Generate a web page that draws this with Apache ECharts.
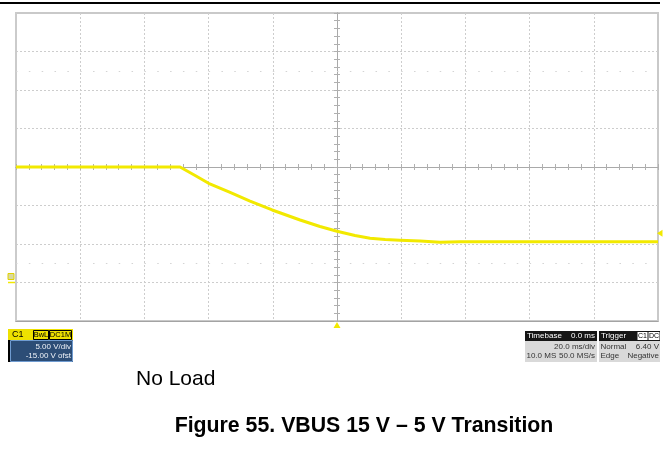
<!DOCTYPE html>
<html>
<head>
<meta charset="utf-8">
<title>VBUS 15 V – 5 V Transition</title>
<script src="https://cdn.jsdelivr.net/npm/echarts@6.0.0/dist/echarts.min.js"></script>
<style>
  html, body { margin: 0; padding: 0; background: #ffffff; }
  #chart { width: 671px; height: 453px; }
</style>
</head>
<body>
<div id="chart"></div>
<script>
// Channel 1 capture: time in ms relative to the trigger, voltage in V
const timeMs = [-100, -48.9, -44.2, -40.0, -33.3, -27.1, -20.2, -11.5, -5.3, 0, 5.6, 10.3, 15.0, 19.6, 25.9, 32.1, 38.3, 60, 80, 100];
const voltsV = [15.0, 15.0, 13.9, 12.88, 11.69, 10.58, 9.42, 8.12, 7.27, 6.65, 6.10, 5.74, 5.58, 5.48, 5.39, 5.22, 5.29, 5.28, 5.29, 5.29];

// Screen settings: 10 horizontal divisions of 20 ms, 8 vertical divisions of 5 V (15 V at centre)
const timeRange = [-100, 100];
const timeDiv = 20;
const voltRange = [-5, 35];
const voltDiv = 5;
const dottedRowsV = [2.5, 27.5];

// Marker values
const triggerTimeMs = 0;
const triggerLevelV = 6.40;
const groundV = 0;

// Readout texts
const channelName = 'C1';
const channelTags = ['BwL', 'DC1M'];
const channelRows = ['5.00 V/div', '-15.00 V ofst'];
const timebaseHead = ['Timebase', '0.0 ms'];
const timebaseRows = [['', '20.0 ms/div'], ['10.0 MS', '50.0 MS/s']];
const triggerHead = ['Trigger', 'C1', 'DC'];
const triggerRows = [['Normal', '6.40 V'], ['Edge', 'Negative']];
const noteText = 'No Load';
const captionText = 'Figure 55. VBUS 15 V \u2013 5 V Transition';

const FONT = '"Liberation Sans", Arial, Helvetica, sans-serif';
const TRACE = '#f2e900';
const GRID_W = 642, GRID_H = 308, GRID_L = 16, GRID_T = 13;

const chart = echarts.init(document.getElementById('chart'), null, { renderer: 'canvas' });

const hidden = { show: false };
const centreLine = { show: true, onZero: false, lineStyle: { color: '#a9a9a9', width: 1 } };
function centreX(inside) {
  return {
    type: 'value', gridIndex: 0, min: timeRange[0], max: timeRange[1], interval: timeDiv / 5,
    position: 'bottom', offset: -GRID_H / 2,
    axisLine: centreLine,
    axisTick: { show: true, inside: inside, length: 3, lineStyle: { color: '#b0b0b0' } },
    axisLabel: hidden, splitLine: hidden
  };
}
function centreY(inside) {
  return {
    type: 'value', gridIndex: 0, min: voltRange[0], max: voltRange[1], interval: voltDiv / 5,
    position: 'left', offset: -GRID_W / 2,
    axisLine: centreLine,
    axisTick: { show: true, inside: inside, length: 3, lineStyle: { color: '#b0b0b0' } },
    axisLabel: hidden, splitLine: hidden
  };
}
const dashed = { show: true, showMinLine: false, showMaxLine: false, lineStyle: { color: '#cdcdcd', width: 1, type: [2, 2] } };

chart.setOption({
  animation: false,
  backgroundColor: '#ffffff',
  grid: { left: GRID_L, top: GRID_T, width: GRID_W, height: GRID_H, show: true, borderColor: '#c9c9c9', borderWidth: 2, backgroundColor: 'transparent' },
  xAxis: [
    {
      type: 'value', min: timeRange[0], max: timeRange[1], interval: timeDiv, position: 'bottom',
      axisLine: { show: true, onZero: false, lineStyle: { color: '#a3a3a3', width: 1 } },
      axisTick: hidden, axisLabel: hidden, splitLine: dashed
    },
    centreX(true),
    centreX(false)
  ],
  yAxis: [
    {
      type: 'value', min: voltRange[0], max: voltRange[1], interval: voltDiv, position: 'left',
      axisLine: { show: true, onZero: false, lineStyle: { color: '#cbcbcb', width: 2 } },
      axisTick: hidden, axisLabel: hidden, splitLine: dashed
    },
    centreY(true),
    centreY(false)
  ],
  series: [
    {
      name: 'C1',
      type: 'line',
      xAxisIndex: 0, yAxisIndex: 0,
      data: timeMs.map((t, i) => [t, voltsV[i]]),
      showSymbol: false,
      lineStyle: { color: TRACE, width: 3, join: 'round' },
      z: 5,
      markLine: {
        silent: true, symbol: 'none', label: hidden,
        lineStyle: { color: '#d4d4d4', width: 1.2, type: [1.5, 11.34] },
        data: dottedRowsV.map(v => ({ yAxis: v }))
      }
    }
  ]
});

// Markers and readout panels
function readoutGraphics() {
  const els = [];
  const tb = chart.convertToPixel({ gridIndex: 0 }, [triggerTimeMs, voltRange[0]]);
  els.push({ type: 'polygon', shape: { points: [[tb[0], tb[1] + 1], [tb[0] - 3.5, tb[1] + 7], [tb[0] + 3.5, tb[1] + 7]] }, style: { fill: TRACE } });
  const tl = chart.convertToPixel({ gridIndex: 0 }, [timeRange[1], triggerLevelV]);
  els.push({ type: 'polygon', shape: { points: [[tl[0] - 1, tl[1]], [tl[0] + 4.5, tl[1] - 3.5], [tl[0] + 4.5, tl[1] + 3.5]] }, style: { fill: TRACE } });
  const gd = chart.convertToPixel({ gridIndex: 0 }, [timeRange[0], groundV]);
  els.push({ type: 'rect', shape: { x: gd[0] - 8, y: gd[1] - 9, width: 6, height: 6 }, style: { fill: '#d8d8a0', stroke: '#e0d200', lineWidth: 1 } });
  els.push({ type: 'line', shape: { x1: gd[0] - 8, y1: gd[1], x2: gd[0] - 1, y2: gd[1] }, style: { stroke: TRACE, lineWidth: 1.5 } });

  const txt = (x, y, s, align, color, size, weight) => ({
    type: 'text', x: x, y: y,
    style: { text: s, fill: color, font: (weight || 'normal') + ' ' + (size || 8) + 'px ' + FONT, textAlign: align || 'left', textVerticalAlign: 'middle' }
  });

  // Channel descriptor
  els.push({ type: 'rect', shape: { x: 8, y: 329, width: 65, height: 11 }, style: { fill: '#eee100' } });
  els.push({ type: 'rect', shape: { x: 8, y: 340, width: 65, height: 22 }, style: { fill: '#000000' } });
  els.push({ type: 'rect', shape: { x: 10.5, y: 340.5, width: 62, height: 21 }, style: { fill: '#2c4d76', stroke: '#6f9bd0', lineWidth: 1 } });
  els.push(txt(12, 334.5, channelName, 'left', '#000', 9));
  els.push({ type: 'rect', shape: { x: 33.5, y: 330.5, width: 15, height: 9 }, style: { fill: 'none', stroke: '#000', lineWidth: 1 } });
  els.push(txt(41, 335, channelTags[0], 'center', '#000', 7.5));
  els.push({ type: 'rect', shape: { x: 49.5, y: 330.5, width: 22, height: 9 }, style: { fill: 'none', stroke: '#000', lineWidth: 1 } });
  els.push(txt(60.5, 335, channelTags[1], 'center', '#000', 7.5));
  els.push(txt(71, 346.5, channelRows[0], 'right', '#eef2f8', 8));
  els.push(txt(71, 355.5, channelRows[1], 'right', '#eef2f8', 8));

  // Timebase panel
  els.push({ type: 'rect', shape: { x: 525, y: 331, width: 72, height: 10 }, style: { fill: '#151515' } });
  els.push({ type: 'rect', shape: { x: 525, y: 341, width: 72, height: 21 }, style: { fill: '#d9d9d9' } });
  els.push(txt(527, 336, timebaseHead[0], 'left', '#ffffff', 8));
  els.push(txt(595, 336, timebaseHead[1], 'right', '#ffffff', 8));
  timebaseRows.forEach((r, i) => {
    els.push(txt(526.5, 346.5 + i * 9.5, r[0], 'left', '#333', 8));
    els.push(txt(595, 346.5 + i * 9.5, r[1], 'right', '#333', 8));
  });

  // Trigger panel
  els.push({ type: 'rect', shape: { x: 599, y: 331, width: 61, height: 10 }, style: { fill: '#151515' } });
  els.push({ type: 'rect', shape: { x: 599, y: 341, width: 61, height: 21 }, style: { fill: '#d9d9d9' } });
  els.push(txt(601, 336, triggerHead[0], 'left', '#ffffff', 8));
  els.push({ type: 'rect', shape: { x: 637.5, y: 332, width: 10, height: 8 }, style: { fill: '#ffffff' } });
  els.push(txt(642.5, 336, triggerHead[1], 'center', '#000', 7));
  els.push({ type: 'rect', shape: { x: 648.5, y: 332, width: 11, height: 8 }, style: { fill: '#ffffff' } });
  els.push(txt(654, 336, triggerHead[2], 'center', '#000', 7));
  triggerRows.forEach((r, i) => {
    els.push(txt(600.5, 346.5 + i * 9.5, r[0], 'left', '#333', 8));
    els.push(txt(659, 346.5 + i * 9.5, r[1], 'right', '#333', 8));
  });

  // Page rule, note and caption
  els.push({ type: 'line', shape: { x1: 0, y1: 3, x2: 660, y2: 3 }, style: { stroke: '#000', lineWidth: 2 } });
  els.push(txt(136, 379, noteText, 'left', '#000', 21));
  els.push(txt(364, 426.5, captionText, 'center', '#000', 21.3, 'bold'));
  return els;
}

chart.setOption({ graphic: { elements: readoutGraphics() } });
</script>
</body>
</html>
